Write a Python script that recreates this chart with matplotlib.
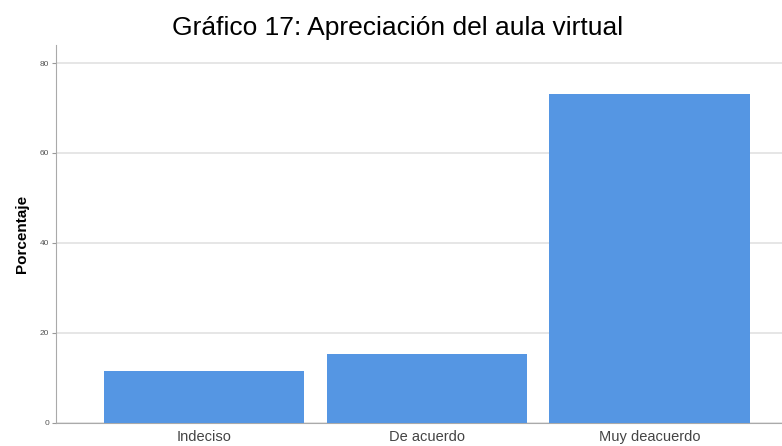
import matplotlib.pyplot as plt
import numpy as np

categorias = ['Indeciso', 'De acuerdo', 'Muy deacuerdo']
porcentajes = [11.5, 15.4, 73.1]
yticks = [0, 20, 40, 60, 80]

plt.rcParams['font.family'] = ['Liberation Sans', 'DejaVu Sans']

fig = plt.figure(figsize=(7.82, 4.46), dpi=100)
ax = fig.add_axes([0.0716, 0.0516, 0.93, 0.8475])

x = np.arange(len(categorias))
ax.bar(x, porcentajes, width=0.9, color='#5596e3', zorder=3)

ax.set_xlim(-0.665, 2.6)
ax.set_ylim(0, 84)
ax.set_yticks(yticks)
ax.set_yticklabels([str(t) for t in yticks], fontsize=6, color='#555555')
ax.set_xticks(x)
ax.set_xticklabels(categorias, fontsize=10.5, color='#444444')
ax.tick_params(axis='y', length=3, color='#999999', pad=2)
ax.tick_params(axis='x', length=0, pad=5)

ax.grid(axis='y', color='#e2e2e2', linewidth=1.2, zorder=0)
for s in ['top', 'right']:
    ax.spines[s].set_visible(False)
ax.spines['left'].set_color('#aaaaaa')
ax.spines['bottom'].set_color('#aaaaaa')

ax.set_ylabel('Porcentaje', fontsize=11, fontweight='bold', labelpad=8)

fig.text(0.509, 0.965, 'Gráfico 17: Apreciación del aula virtual',
         fontsize=19, ha='center', va='top')

fig.savefig('out.png', dpi=100)
